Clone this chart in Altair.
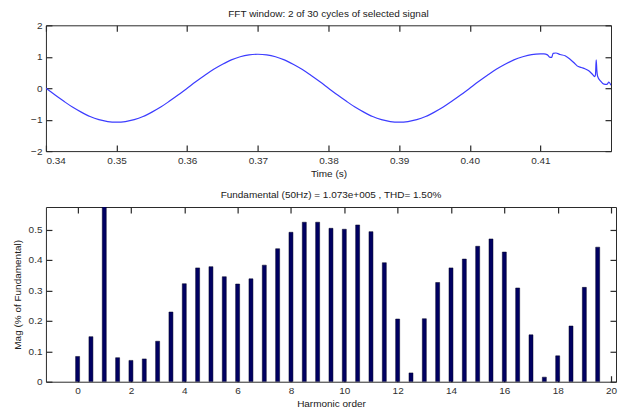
import altair as alt
import pandas as pd

FONT = "Liberation Sans, Arial, sans-serif"

# ---- top panel: signal window ----
sig_t = [
    0.34, 0.34125, 0.3425, 0.34375, 0.345, 0.34625, 0.3475, 0.34875,
    0.35, 0.35125, 0.3525, 0.35375, 0.355, 0.35625, 0.3575, 0.35875,
    0.36, 0.36125, 0.3625, 0.36375, 0.365, 0.36625, 0.3675, 0.36875,
    0.37, 0.37125, 0.3725, 0.37375, 0.375, 0.37625, 0.3775, 0.37875,
    0.38, 0.38125, 0.3825, 0.38375, 0.385, 0.38625, 0.3875, 0.38875,
    0.39, 0.39125, 0.3925, 0.39375, 0.395, 0.39625, 0.3975, 0.39875,
    0.40, 0.40125, 0.4025, 0.40375, 0.405, 0.40625, 0.4075, 0.40875,
    0.41, 0.4105, 0.4110, 0.4113, 0.4116, 0.4118, 0.4122, 0.4128,
    0.4135, 0.4142, 0.4148, 0.4152, 0.4158, 0.4163, 0.4168, 0.4173,
    0.4177, 0.4178, 0.4179, 0.4180, 0.4181, 0.4185, 0.4190, 0.4194,
    0.4197, 0.4200,
]
sig_v = [
    0.00, -0.21, -0.41, -0.60, -0.76, -0.90, -1.00, -1.06,
    -1.08, -1.06, -1.00, -0.90, -0.76, -0.60, -0.41, -0.21,
    0.00, 0.21, 0.41, 0.60, 0.76, 0.90, 1.00, 1.06,
    1.08, 1.06, 1.00, 0.90, 0.76, 0.60, 0.41, 0.21,
    0.00, -0.21, -0.41, -0.60, -0.76, -0.90, -1.00, -1.06,
    -1.08, -1.06, -1.00, -0.90, -0.76, -0.60, -0.41, -0.21,
    0.00, 0.21, 0.41, 0.60, 0.76, 0.90, 1.00, 1.07,
    1.09, 1.09, 1.06, 0.99, 0.98, 1.11, 1.12, 1.07,
    1.03, 0.92, 0.80, 0.71, 0.66, 0.62, 0.56, 0.46,
    0.37, 0.42, 0.90, 0.55, 0.38, 0.23, 0.13, 0.12,
    0.19, 0.09,
]
time_ticks = [0.34, 0.35, 0.36, 0.37, 0.38, 0.39, 0.40, 0.41]
sig_yticks = [-2, -1, 0, 1, 2]

# ---- bottom panel: harmonic spectrum ----
harm = [0, 0.5, 1, 1.5, 2, 2.5, 3, 3.5, 4, 4.5, 5, 5.5, 6, 6.5, 7, 7.5,
        8, 8.5, 9, 9.5, 10, 10.5, 11, 11.5, 12, 12.5, 13, 13.5, 14, 14.5,
        15, 15.5, 16, 16.5, 17, 17.5, 18, 18.5, 19, 19.5]
mag = [0.083, 0.148, 100.0, 0.079, 0.070, 0.075, 0.133, 0.229, 0.322, 0.374,
       0.378, 0.345, 0.321, 0.338, 0.383, 0.437, 0.491, 0.524, 0.524, 0.504,
       0.501, 0.515, 0.493, 0.391, 0.206, 0.029, 0.207, 0.326, 0.374, 0.403,
       0.445, 0.469, 0.426, 0.308, 0.154, 0.015, 0.085, 0.183, 0.310, 0.442]
harm_ticks = [0, 2, 4, 6, 8, 10, 12, 14, 16, 18, 20]
mag_ticks = [0, 0.1, 0.2, 0.3, 0.4, 0.5]

W1, H1 = 566, 126
W2, H2 = 571, 175
TICK = 6
FRAME = "#2a2a2a"

sig_df = pd.DataFrame({"t": sig_t, "v": sig_v})
bar_df = pd.DataFrame({"h": harm, "m": mag})


def main_ax(values, fmt, title, **kw):
    # inward ticks: axis pulled into the plot by TICK, ticks reach the frame
    return alt.Axis(
        values=values, format=fmt, title=title, ticks=True, tickSize=TICK,
        tickColor=FRAME, tickWidth=1.2, offset=-TICK, grid=False, domain=False,
        labelFont=FONT, labelFontSize=10, labelColor="#303030",
        labelPadding=4, titleFont=FONT, titleFontSize=10,
        titleFontWeight="normal", titleColor="#202020", **kw,
    )


def mirror_ax(values, orient):
    return alt.Axis(
        values=values, orient=orient, title=None, labels=False, ticks=True,
        tickSize=TICK, tickColor=FRAME, tickWidth=1.2, offset=-TICK,
        grid=False, domain=False,
    )


def panel(base, xf, yf, xs, ys, xticks, yticks, xfmt, yfmt, xtitle, ytitle,
          ytp):
    a = base.encode(
        x=alt.X(xf, scale=xs, axis=main_ax(xticks, xfmt, xtitle, titlePadding=3)),
        y=alt.Y(yf, scale=ys, axis=main_ax(yticks, yfmt, ytitle, titlePadding=ytp)),
    )
    b = base.encode(
        x=alt.X(xf, scale=xs, axis=mirror_ax(xticks, "top")),
        y=alt.Y(yf, scale=ys, axis=mirror_ax(yticks, "right")),
        opacity=alt.value(0),
    )
    return alt.layer(a, b).resolve_axis(x="independent", y="independent")


top_base = alt.Chart(sig_df).mark_line(
    color="#3c3cff", strokeWidth=1.2, interpolate="monotone", clip=True
)
top = panel(
    top_base, "t:Q", "v:Q",
    alt.Scale(domain=[0.34, 0.42], nice=False, zero=False),
    alt.Scale(domain=[-2, 2], nice=False, zero=False),
    time_ticks, sig_yticks, ".2f", "d", "Time (s)", None, 4,
).properties(
    width=W1, height=H1,
    title=alt.TitleParams("FFT window: 2 of 30 cycles of selected signal",
                          font=FONT, fontSize=10, fontWeight="normal",
                          color="#202020", offset=1, frame="group"),
)

bottom_base = alt.Chart(bar_df).mark_bar(
    size=4, color="#000062", stroke="#000020", strokeWidth=0.5, clip=True
)
bottom = panel(
    bottom_base, "h:Q", "m:Q",
    alt.Scale(domain=[-1, 20], nice=False, zero=False),
    alt.Scale(domain=[0, 0.574], nice=False),
    harm_ticks, mag_ticks, "d", "~g", "Harmonic order",
    "Mag (% of Fundamental)", 6,
).properties(
    width=W2, height=H2,
    title=alt.TitleParams("Fundamental (50Hz) = 1.073e+005 , THD= 1.50%",
                          font=FONT, fontSize=10, fontWeight="normal",
                          color="#202020", offset=6, frame="group"),
)

chart = alt.vconcat(top, bottom, spacing=56, bounds="flush").configure_view(
    stroke=FRAME, strokeWidth=1
).properties(
    padding={"left": 3, "top": 0, "right": 2, "bottom": 2},
    background="white",
)

chart.save("out.html", embed_options={"renderer": "svg", "actions": False})
